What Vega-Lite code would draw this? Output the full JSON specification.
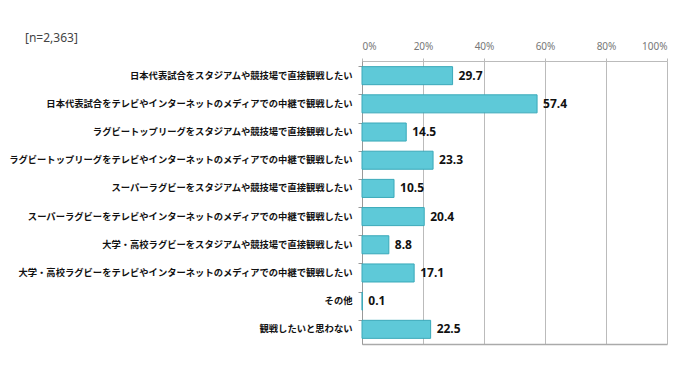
{
  "$schema": "https://vega.github.io/schema/vega-lite/v6.json",
  "width": 305,
  "height": 283,
  "autosize": {"type": "none"},
  "padding": {"left": 362, "top": 61, "right": 33, "bottom": 32},
  "background": "white",
  "title": {
    "text": "[n=2,363]",
    "anchor": "start",
    "frame": "group",
    "dx": -337,
    "offset": -4,
    "fontSize": 12,
    "fontWeight": "normal",
    "color": "#444444",
    "font": "Noto Sans"
  },
  "data": {
    "values": [
      {"item": "日本代表試合をスタジアムや競技場で直接観戦したい", "value": 29.7, "order": 1},
      {"item": "日本代表試合をテレビやインターネットのメディアでの中継で観戦したい", "value": 57.4, "order": 2},
      {"item": "ラグビートップリーグをスタジアムや競技場で直接観戦したい", "value": 14.5, "order": 3},
      {"item": "ラグビートップリーグをテレビやインターネットのメディアでの中継で観戦したい", "value": 23.3, "order": 4},
      {"item": "スーパーラグビーをスタジアムや競技場で直接観戦したい", "value": 10.5, "order": 5},
      {"item": "スーパーラグビーをテレビやインターネットのメディアでの中継で観戦したい", "value": 20.4, "order": 6},
      {"item": "大学・高校ラグビーをスタジアムや競技場で直接観戦したい", "value": 8.8, "order": 7},
      {"item": "大学・高校ラグビーをテレビやインターネットのメディアでの中継で観戦したい", "value": 17.1, "order": 8},
      {"item": "その他", "value": 0.1, "order": 9},
      {"item": "観戦したいと思わない", "value": 22.5, "order": 10}
    ]
  },
  "encoding": {
    "y": {
      "field": "item",
      "type": "nominal",
      "sort": {"field": "order"},
      "scale": {"paddingInner": 0.36, "paddingOuter": 0.2},
      "axis": {
        "title": null,
        "labelFont": "Noto Sans CJK JP",
        "labelFontSize": 9.3,
        "labelFontWeight": "bold",
        "labelColor": "#111111",
        "labelLimit": 0,
        "labelPadding": 6,
        "domainColor": "#999999",
        "tickColor": "#999999",
        "tickSize": 4,
        "bandPosition": 0
      }
    }
  },
  "layer": [
    {
      "mark": {"type": "bar", "color": "#5ec9d8", "stroke": "#3aa9b9", "strokeWidth": 1},
      "encoding": {
        "x": {
          "field": "value",
          "type": "quantitative",
          "scale": {"domain": [0, 100]},
          "axis": {
            "orient": "top",
            "title": null,
            "values": [0, 20, 40, 60, 80, 100],
            "labelExpr": "datum.value + '%'",
            "labelFont": "Noto Sans",
            "labelFontSize": 10,
            "labelColor": "#777777",
            "labelPadding": 7,
            "ticks": true,
            "tickSize": 3,
            "tickColor": "#bbbbbb",
            "domain": true,
            "domainColor": "#bbbbbb",
            "grid": true,
            "gridColor": "#bbbbbb",
            "gridWidth": 1
          }
        }
      }
    },
    {
      "mark": {"type": "text", "align": "left", "dx": 6, "fontSize": 12, "fontWeight": "bold", "font": "Noto Sans", "color": "#111111"},
      "encoding": {
        "x": {
          "field": "value",
          "type": "quantitative",
          "scale": {"domain": [0, 100]},
          "axis": {
            "orient": "bottom",
            "title": null,
            "labels": false,
            "ticks": false,
            "grid": false,
            "domainColor": "#aaaaaa",
            "domainWidth": 1.5
          }
        },
        "text": {"field": "value", "type": "quantitative", "format": ".1f"}
      }
    }
  ],
  "resolve": {"axis": {"x": "independent"}},
  "config": {"view": {"stroke": null}}
}
